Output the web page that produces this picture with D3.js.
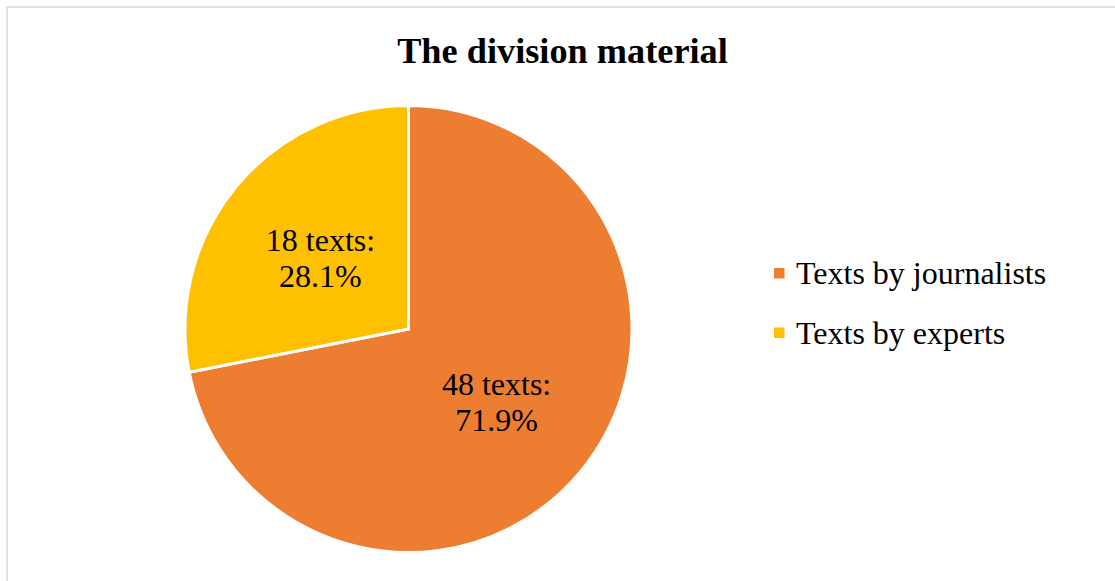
<!DOCTYPE html>
<html>
<head>
<meta charset="utf-8">
<script src="https://cdn.jsdelivr.net/npm/d3@7"></script>
<style>
  html, body { margin: 0; padding: 0; background: #fff; }
  svg { display: block; }
</style>
</head>
<body>
<svg id="chart" width="1115" height="581"></svg>
<script>
// Share of the material by author type
const categories = ["Texts by journalists", "Texts by experts"];
const counts = [48, 18];
const percents = [71.9, 28.1];
const colors = ["#ED7D31", "#FFC000"];
const title = "The division material";

const W = 1115, H = 581;
const serif = "'Liberation Serif', 'Times New Roman', Times, serif";
const svg = d3.select("#chart");

// chart area frame
svg.append("rect")
  .attr("x", 7).attr("y", 7)
  .attr("width", W + 20).attr("height", H + 20)
  .attr("fill", "#fff")
  .attr("stroke", "#d9d9d9")
  .attr("stroke-width", 1.5);

svg.append("text")
  .attr("x", 562.5).attr("y", 63)
  .attr("text-anchor", "middle")
  .attr("font-family", serif)
  .attr("font-weight", "bold")
  .attr("font-size", 36.3)
  .attr("fill", "#000")
  .text(title);

const cx = 408.5, cy = 329, r = 223.5;
const data = categories.map((c, i) => ({ name: c, count: counts[i], pct: percents[i], color: colors[i] }));

// first slice starts at 12 o'clock and runs clockwise
const pie = d3.pie().sort(null).value(d => d.pct);
const arcs = pie(data);
const arc = d3.arc().innerRadius(0).outerRadius(r);
const labelArc = d3.arc().innerRadius(r * 0.51).outerRadius(r * 0.51);

const g = svg.append("g").attr("transform", `translate(${cx},${cy})`);

g.selectAll("path.slice")
  .data(arcs)
  .join("path")
  .attr("class", "slice")
  .attr("d", arc)
  .attr("fill", d => d.data.color)
  .attr("stroke", "#fff")
  .attr("stroke-width", 3)
  .attr("stroke-linejoin", "miter");

const fs = 32;
const labels = g.selectAll("text.lbl")
  .data(arcs)
  .join("text")
  .attr("class", "lbl")
  .attr("transform", d => `translate(${labelArc.centroid(d)})`)
  .attr("text-anchor", "middle")
  .attr("font-family", serif)
  .attr("font-size", fs)
  .attr("fill", "#000");
labels.append("tspan")
  .attr("x", 0).attr("y", -6)
  .text(d => `${d.data.count} texts:`);
labels.append("tspan")
  .attr("x", 0).attr("y", 30)
  .text(d => `${d.data.pct.toFixed(1)}%`);

// legend
const legend = svg.append("g").attr("transform", "translate(774,268)");
const rows = legend.selectAll("g")
  .data(data)
  .join("g")
  .attr("transform", (d, i) => `translate(0,${i * 59.5})`);
rows.append("rect")
  .attr("width", 10.5).attr("height", 10.5)
  .attr("fill", d => d.color);
rows.append("text")
  .attr("x", 22).attr("y", 16)
  .attr("font-family", serif)
  .attr("font-size", fs)
  .attr("fill", "#000")
  .text(d => d.name);
</script>
</body>
</html>
